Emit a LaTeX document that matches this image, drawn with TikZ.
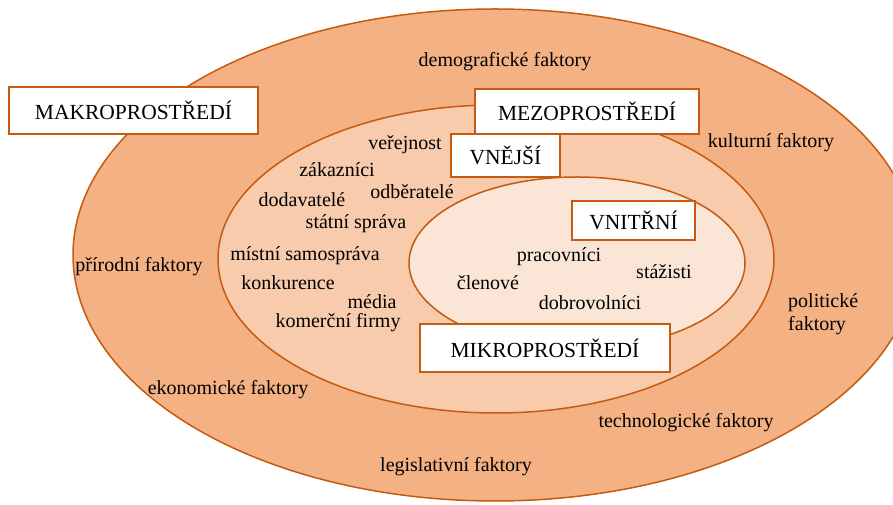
\documentclass[tikz,border=0pt]{standalone}
\usepackage{fontspec}
\setmainfont{Liberation Serif}
\usepackage{tikz}
\usetikzlibrary{positioning}

\definecolor{ringline}{HTML}{C55A11}
\definecolor{makrofill}{HTML}{F4B183}
\definecolor{mezofill}{HTML}{F8CBAD}
\definecolor{mikrofill}{HTML}{FBE5D6}

\tikzset{
    ring/.style={draw=ringline, line width=1.5pt},
    levelbox/.style={draw=ringline, fill=white, line width=1.5pt, inner sep=0pt,
        font=\fontsize{21.5}{24}\selectfont},
    factor/.style={inner sep=0pt, font=\fontsize{20}{23}\selectfont, align=center}
}

\begin{document}
\begin{tikzpicture}[x=1pt, y=1pt]
    \useasboundingbox (0,0) rectangle (893,505);

    % the three rings
    \draw[ring, fill=makrofill] (495,250) ellipse [x radius=422, y radius=246];
    \draw[ring, fill=mezofill]  (496,246) ellipse [x radius=278, y radius=154];
    \draw[ring, fill=mikrofill] (577,242) ellipse [x radius=168, y radius=86];

    % level boxes
    \node[levelbox, minimum width=249pt, minimum height=47pt] (makro) at (133.5,394.5) {MAKROPROSTŘEDÍ};
    \node[levelbox, minimum width=224pt, minimum height=45pt] (mezo) at (587,393.5) {MEZOPROSTŘEDÍ};
    \node[levelbox, minimum width=109pt, minimum height=43pt] (vnejsi) at (505.5,349.5) {VNĚJŠÍ};
    \node[levelbox, minimum width=123pt, minimum height=39pt] (vnitrni) at (633.5,284.5) {VNITŘNÍ};
    \node[levelbox, minimum width=250pt, minimum height=48pt] (mikro) at (545,157) {MIKROPROSTŘEDÍ};

    % makro factors
    \node[factor] (demo) at (505,443) {demografické faktory};
    \node[factor] (kult) at (771,362) {kulturní faktory};
    \node[factor] (prir) at (139,238) {přírodní faktory};
    \node[factor, align=left, anchor=west] (polit) at (788,191) {politické\\faktory};
    \node[factor] (ekon) at (228,115) {ekonomické faktory};
    \node[factor] (techn) at (686,82) {technologické faktory};
    \node[factor] (legis) at (456,38) {legislativní faktory};

    % vnejsi (mezo) factors
    \node[factor] (verej) at (405,360) {veřejnost};
    \node[factor] (zakaz) at (337,335) {zákazníci};
    \node[factor] (odber) at (412,313) {odběratelé};
    \node[factor] (dodav) at (302,305) {dodavatelé};
    \node[factor] (statni) at (356,281) {státní správa};
    \node[factor] (mistni) at (305,249) {místní samospráva};
    \node[factor] (konk) at (288,222) {konkurence};
    \node[factor] (media) at (372,203) {média};
    \node[factor] (firmy) at (338,182) {komerční firmy};

    % vnitrni (mikro) factors
    \node[factor] (prac) at (559,248) {pracovníci};
    \node[factor] (staz) at (664,233) {stážisti};
    \node[factor] (clen) at (488,222) {členové};
    \node[factor] (dobr) at (590,202) {dobrovolníci};
\end{tikzpicture}
\end{document}
